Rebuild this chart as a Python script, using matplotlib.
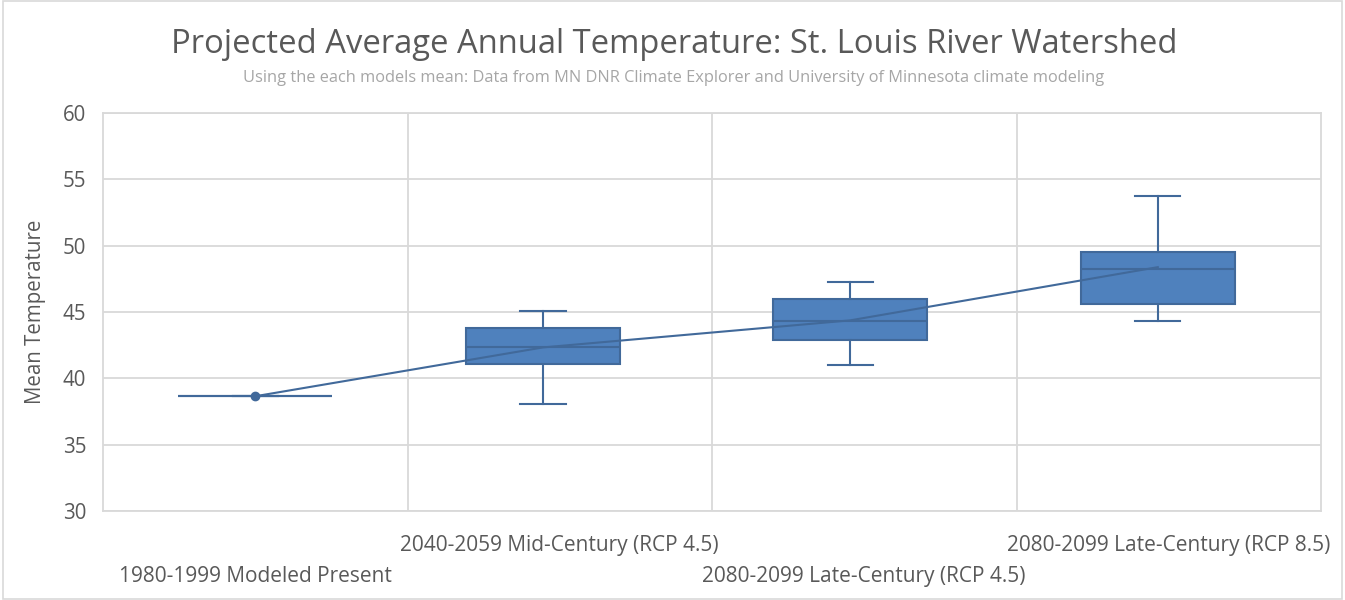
import matplotlib
matplotlib.use("Agg")
import matplotlib.pyplot as plt
from matplotlib.patches import Rectangle

categories = ["1980-1999 Modeled Present",
              "2040-2059 Mid-Century (RCP 4.5)",
              "2080-2099 Late-Century (RCP 4.5)",
              "2080-2099 Late-Century (RCP 8.5)"]
whisker_low = [38.65, 38.04, 41.03, 44.32]
q1 = [38.65, 41.05, 42.86, 45.60]
median = [38.65, 42.38, 44.34, 48.26]
q3 = [38.65, 43.77, 45.98, 49.52]
whisker_high = [38.65, 45.07, 47.23, 53.71]
means = [38.65, 42.33, 44.37, 48.38]

# layout: boxes are drawn slightly left of category centre in the reference
box_shift = [0.0, -0.055, -0.046, -0.036]

FILL = "#4f81bd"
EDGE = "#41699a"
GRID = "#d9d9d9"
TXT = "#595959"

plt.rcParams['font.family'] = ['Open Sans', 'DejaVu Sans']

fig = plt.figure(figsize=(13.45, 6.0), dpi=100)
ax = fig.add_axes([103/1345, 1-511/600, (1321-103)/1345, (511-113)/600])

stats = []
for i in range(len(categories)):
    stats.append(dict(whislo=whisker_low[i], q1=q1[i], med=median[i],
                      q3=q3[i], whishi=whisker_high[i], fliers=[],
                      mean=means[i], label=""))
positions = list(range(len(categories)))
box_pos = [p + s for p, s in zip(positions, box_shift)]
ax.bxp(stats, positions=box_pos, widths=0.505, patch_artist=True,
       showfliers=False, showmeans=False,
       boxprops=dict(facecolor=FILL, edgecolor=EDGE, linewidth=1.5),
       medianprops=dict(color=EDGE, linewidth=1.5),
       whiskerprops=dict(color=EDGE, linewidth=1.5),
       capprops=dict(color=EDGE, linewidth=1.5),
       capwidths=0.148, zorder=3)
ax.plot(box_pos, means, color=EDGE, linewidth=1.5, marker="o",
        markersize=6, markevery=[0], zorder=4)

ax.set_xlim(-0.5, 3.5)
ax.set_ylim(30, 60)
ax.set_yticks(range(30, 61, 5))
ax.set_xticks([0.5, 1.5, 2.5], minor=True)
ax.grid(True, axis="y", color=GRID, linewidth=1.3, zorder=0)
ax.grid(True, axis="x", which="minor", color=GRID, linewidth=1.3, zorder=0)
ax.set_axisbelow(True)
for s in ax.spines.values():
    s.set_color(GRID)
    s.set_linewidth(1.3)
ax.tick_params(axis="both", which="both", length=0, colors=TXT)
ax.tick_params(axis="y", pad=12, labelsize=14.8)
ax.tick_params(axis="x", labelsize=15)
ax.set_xticks(positions, categories)
for i, t in enumerate(ax.xaxis.get_major_ticks()):
    t.set_pad(39.5 if i % 2 == 0 else 17.5)

ax.set_ylabel("Mean Temperature", color=TXT, fontsize=14.8, labelpad=12)

fig.text(0.501, 1-53.3/600, "Projected Average Annual Temperature: St. Louis River Watershed",
         ha="center", va="baseline", fontsize=23.6, color=TXT)
fig.text(0.501, 1-82/600, "Using the each models mean: Data from MN DNR Climate Explorer and University of Minnesota climate modeling",
         ha="center", va="baseline", fontsize=11.8, color="#a6a6a6")

fig.patches.append(Rectangle((0.002, 0.002), 0.996, 0.996, transform=fig.transFigure,
                             fill=False, edgecolor=GRID, linewidth=1.2))

fig.savefig("out.png", dpi=100, facecolor="white")
